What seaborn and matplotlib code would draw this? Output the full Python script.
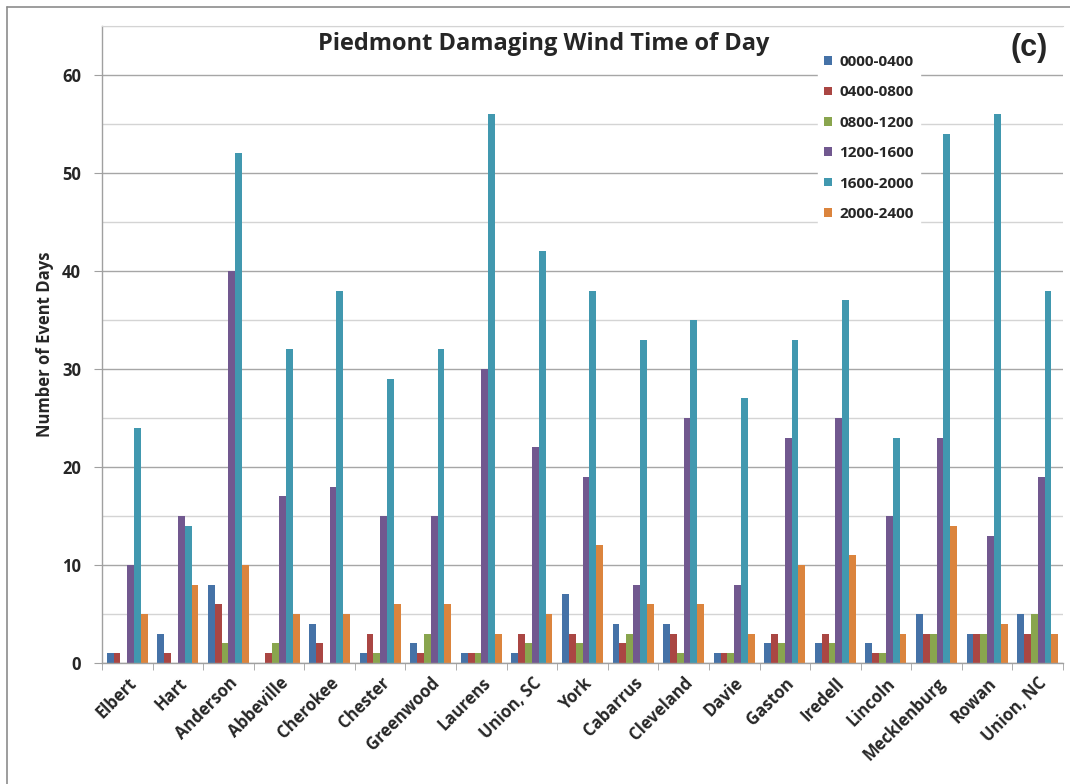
import numpy as np
import pandas as pd
import matplotlib
matplotlib.use("Agg")
import matplotlib.pyplot as plt
import seaborn as sns
from matplotlib.lines import Line2D
from matplotlib.ticker import MultipleLocator, FixedLocator

counties = ["Elbert", "Hart", "Anderson", "Abbeville", "Cherokee", "Chester",
            "Greenwood", "Laurens", "Union, SC", "York", "Cabarrus", "Cleveland",
            "Davie", "Gaston", "Iredell", "Lincoln", "Mecklenburg", "Rowan", "Union, NC"]
periods = ["0000-0400", "0400-0800", "0800-1200", "1200-1600", "1600-2000", "2000-2400"]

t0000_0400 = [1, 3, 8, 0, 4, 1, 2, 1, 1, 7, 4, 4, 1, 2, 2, 2, 5, 3, 5]
t0400_0800 = [1, 1, 6, 1, 2, 3, 1, 1, 3, 3, 2, 3, 1, 3, 3, 1, 3, 3, 3]
t0800_1200 = [0, 0, 2, 2, 0, 1, 3, 1, 2, 2, 3, 1, 1, 2, 2, 1, 3, 3, 5]
t1200_1600 = [10, 15, 40, 17, 18, 15, 15, 30, 22, 19, 8, 25, 8, 23, 25, 15, 23, 13, 19]
t1600_2000 = [24, 14, 52, 32, 38, 29, 32, 56, 42, 38, 33, 35, 27, 33, 37, 23, 54, 56, 38]
t2000_2400 = [5, 8, 10, 5, 5, 6, 6, 3, 5, 12, 6, 6, 3, 10, 11, 3, 14, 4, 3]

colors = ["#4572A7", "#AA4643", "#89A54E", "#71588F", "#4198AF", "#DB843D"]

series = [t0000_0400, t0400_0800, t0800_1200, t1200_1600, t1600_2000, t2000_2400]
df = pd.DataFrame({
    "county": np.tile(counties, len(periods)),
    "period": np.repeat(periods, len(counties)),
    "days": np.concatenate(series),
})

sns.set_style("white")
plt.rcParams["font.family"] = ["Open Sans", "DejaVu Sans"]

fig = plt.figure(figsize=(10.7, 7.84), dpi=100)
ax = fig.add_axes([102 / 1070, 121 / 784, 961 / 1070, 637 / 784])

sns.barplot(data=df, x="county", y="days", hue="period", order=counties,
            hue_order=periods, palette=colors, width=0.81, saturation=1,
            edgecolor="none", ax=ax, legend=True)

ax.set_xlim(-0.5, len(counties) - 0.5)
ax.set_ylim(0, 65)
ax.yaxis.set_major_locator(FixedLocator([0, 10, 20, 30, 40, 50, 60]))
ax.yaxis.set_minor_locator(MultipleLocator(5))
ax.grid(axis="y", which="major", color="#a6a6a6", linewidth=1.0)
ax.grid(axis="y", which="minor", color="#d4d4d4", linewidth=1.0)
ax.set_axisbelow(True)

for s in ["left", "bottom"]:
    ax.spines[s].set_color("#a0a0a0")
    ax.spines[s].set_linewidth(1.0)
ax.spines["top"].set_color("#d4d4d4")
ax.spines["right"].set_visible(False)

ax.tick_params(axis="y", which="major", direction="out", length=6, color="#a0a0a0",
               labelsize=12, pad=9, left=True)
ax.tick_params(axis="y", which="minor", length=0)
for lab in ax.get_yticklabels():
    lab.set_fontweight("bold")

ax.set_xticks(range(len(counties)))
ax.set_xticklabels(counties, rotation=45, ha="right", rotation_mode="anchor",
                   fontsize=12, fontweight="bold")
ax.xaxis.set_minor_locator(FixedLocator(np.arange(-0.5, len(counties), 1.0)))
ax.tick_params(axis="x", which="major", length=0, pad=8)
ax.tick_params(axis="x", which="minor", direction="out", length=5, color="#a0a0a0",
               bottom=True)

ax.set_xlabel("")
ax.set_ylabel("Number of Event Days", fontsize=12, fontweight="bold", labelpad=6)

fig.text(544 / 1070, 1 - 44 / 784, "Piedmont Damaging Wind Time of Day",
         ha="center", va="center", fontsize=17, fontweight="bold")
fig.text(1029 / 1070, 1 - 48 / 784, "(c)", ha="center", va="center",
         fontsize=22, fontweight="bold", family=["Liberation Sans", "DejaVu Sans"])

handles, labels = ax.get_legend_handles_labels()
leg = ax.legend(handles, labels, loc="upper left",
                bbox_to_anchor=(818 / 1070, 1 - 49 / 784),
                bbox_transform=fig.transFigure, frameon=True, fancybox=False,
                edgecolor="white", framealpha=1, borderaxespad=0, borderpad=0.4,
                handlelength=0.5, handleheight=0.5, handletextpad=0.5,
                labelspacing=1.07, prop={"size": 11, "weight": "bold"})

fig.add_artist(Line2D([7 / 1070, 7 / 1070], [0, 1 - 7 / 784], color="#8c8c8c",
                      linewidth=1.2, transform=fig.transFigure))
fig.add_artist(Line2D([7 / 1070, 1], [1 - 7 / 784, 1 - 7 / 784], color="#8c8c8c",
                      linewidth=1.2, transform=fig.transFigure))

fig.savefig("out.png", dpi=100, facecolor="white")
